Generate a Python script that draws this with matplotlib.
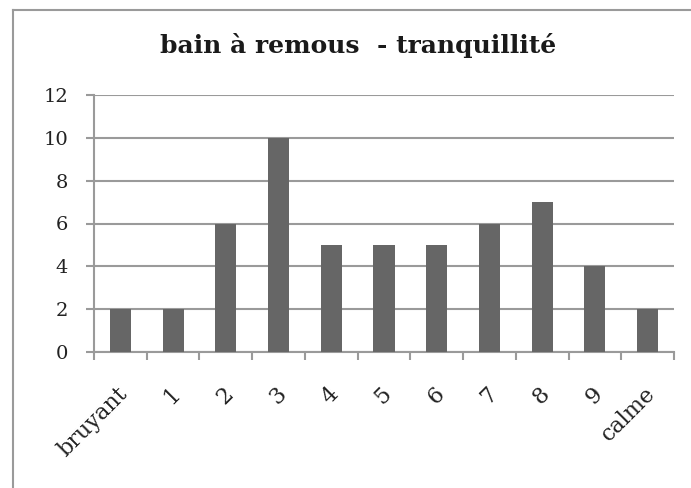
import matplotlib
matplotlib.use("Agg")
import matplotlib.pyplot as plt
from matplotlib.lines import Line2D

categories = ["bruyant", "1", "2", "3", "4", "5", "6", "7", "8", "9", "calme"]
values = [2, 2, 6, 10, 5, 5, 5, 6, 7, 4, 2]
yticks = [0, 2, 4, 6, 8, 10, 12]
title = "bain à remous  - tranquillité"

W, H = 691, 488
fig = plt.figure(figsize=(W / 100, H / 100), dpi=100)
plt.rcParams["font.family"] = ["DejaVu Serif"]

grey = "#9a9a9a"
bar_color = "#666666"
text_color = "#222222"

# outer chart frame (top and left edges visible)
fig.add_artist(Line2D([13 / W, 13 / W], [0, 1 - 10 / H], color=grey, lw=1.5, transform=fig.transFigure))
fig.add_artist(Line2D([13 / W, 1], [1 - 10 / H, 1 - 10 / H], color=grey, lw=1.5, transform=fig.transFigure))

left, right, top, bottom = 94, 674, 95, 352
ax = fig.add_axes([left / W, 1 - bottom / H, (right - left) / W, (bottom - top) / H])

n = len(categories)
x = list(range(n))
ax.bar(x, values, width=0.4, color=bar_color, zorder=3)

ax.set_xlim(-0.5, n - 0.5)
ax.set_ylim(0, 12)
ax.set_yticks(yticks)
ax.set_yticklabels([str(v) for v in yticks], fontsize=14, color=text_color)
ax.yaxis.grid(True, color=grey, lw=1.5, zorder=0)
ax.set_axisbelow(True)

# category boundary ticks on the x axis
ax.set_xticks([i - 0.5 for i in range(n + 1)])
ax.set_xticklabels([])
ax.tick_params(axis="x", length=5.5, width=1.5, color=grey, direction="out")
ax.tick_params(axis="y", length=5.5, width=1.5, color=grey, direction="out", pad=13)

for i, lab in enumerate(categories):
    ax.text(i - 0.07, -1.45, lab, rotation=45, ha="right", va="top",
            rotation_mode="anchor", fontsize=16, color=text_color,
            transform=ax.transData, clip_on=False)

for s in ["top", "right"]:
    ax.spines[s].set_visible(False)
for s in ["left", "bottom"]:
    ax.spines[s].set_color(grey)
    ax.spines[s].set_linewidth(1.5)

fig.text(358 / W, 1 - 45 / H, title, ha="center", va="center",
         fontsize=18, fontweight="bold", color="#1a1a1a")

fig.savefig("out.png", dpi=100)
